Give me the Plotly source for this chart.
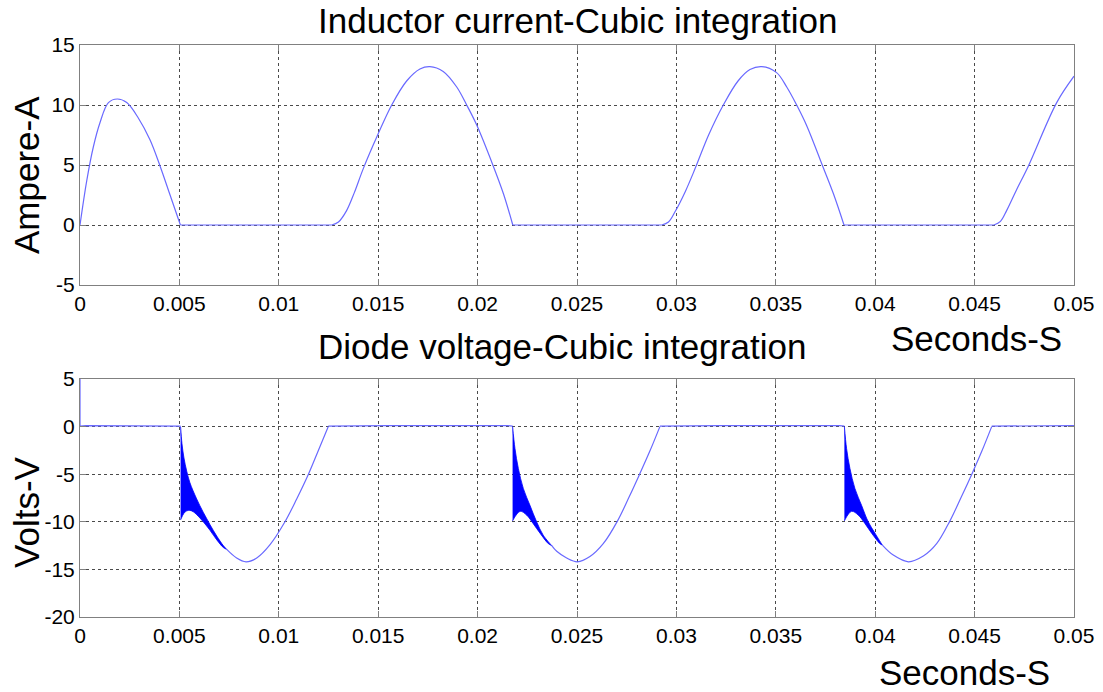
import plotly.graph_objects as go

# ---------------- data ----------------
# Inductor current pulses (time s, current A)
t_i1 = [0, 0.00034, 0.00067, 0.001, 0.00143, 0.00188, 0.00235, 0.00294, 0.00352, 0.00403, 0.00453, 0.00505]
i_1 = [0, 3.7, 6.5, 8.5, 10.2, 10.5, 10.2, 8.9, 7.1, 4.9, 2.5, 0]
t_i2 = [0.01266, 0.0130, 0.01341, 0.0138, 0.01425, 0.0150, 0.01568, 0.01643, 0.0171, 0.0176, 0.01827, 0.01895, 0.01945, 0.01995, 0.02079, 0.0213, 0.02177]
i_2 = [0, 0.25, 1.2, 2.7, 4.7, 7.6, 10.0, 12.0, 13.0, 13.2, 12.8, 11.5, 10.0, 8.35, 4.9, 2.6, 0]
t_i3 = [0.02926, 0.0296, 0.02993, 0.03045, 0.03094, 0.03162, 0.03236, 0.0331, 0.0337, 0.03429, 0.03504, 0.03555, 0.03605, 0.03655, 0.03736, 0.0379, 0.03843]
i_3 = [0, 0.25, 1.1, 2.8, 4.7, 7.5, 10.0, 12.0, 12.95, 13.2, 12.7, 11.5, 10.0, 8.3, 4.9, 2.6, 0]
t_i4 = [0.04597, 0.0463, 0.04661, 0.0471, 0.0477, 0.04913, 0.05]
i_4 = [0, 0.3, 1.2, 2.9, 4.9, 10.2, 12.4]

# Diode voltage while conducting (None separates intervals)
t_von = [0, 0, 0.0003, 0.0042, 0.00506, None, 0.01249, 0.0155, 0.0215, 0.02176, None,
         0.02917, 0.0322, 0.0382, 0.03845, None, 0.04586, 0.0489, 0.05]
v_on = [5, 0.05, 0.1, 0.1, 0.05, None, 0.05, 0.1, 0.1, 0.05, None,
        0.05, 0.1, 0.1, 0.05, None, 0.05, 0.1, 0.1]

# Ringing band envelopes after turn-off (upper / lower edges)
t_up1 = [0.00506, 0.00513, 0.00523, 0.00537, 0.00553, 0.00587, 0.0062, 0.00654, 0.00688, 0.00721, 0.00738]
v_up1 = [0, -1.8, -3.3, -4.7, -5.9, -7.6, -9.0, -10.3, -11.5, -12.5, -12.9]
t_lo1 = [0.00506, 0.00523, 0.00537, 0.00553, 0.0057, 0.00587, 0.0062, 0.00654, 0.00688, 0.00721, 0.00738]
v_lo1 = [-9.8, -9.1, -8.85, -8.8, -8.95, -9.25, -10.0, -10.9, -11.9, -12.7, -12.9]

t_up2 = [0.02176, 0.02188, 0.02205, 0.0223, 0.02264, 0.02297, 0.0233, 0.02373]
v_up2 = [0, -2.3, -4.4, -6.5, -8.3, -10.0, -11.4, -12.5]
t_lo2 = [0.02176, 0.02214, 0.02247, 0.0228, 0.02314, 0.02356, 0.02373]
v_lo2 = [-9.9, -8.9, -9.3, -10.2, -11.2, -12.3, -12.5]

t_up3 = [0.03845, 0.03856, 0.03873, 0.03898, 0.03932, 0.03965, 0.03999, 0.04036]
v_up3 = [0, -2.3, -4.4, -6.5, -8.3, -10.0, -11.2, -12.45]
t_lo3 = [0.03845, 0.03881, 0.03915, 0.03949, 0.03982, 0.04024, 0.04036]
v_lo3 = [-9.9, -8.9, -9.3, -10.2, -11.2, -12.3, -12.45]

# Reverse-voltage curve after ringing
t_d1 = [0.00738, 0.00788, 0.00835, 0.00889, 0.00956, 0.01031, 0.0109, 0.01149, 0.01199, 0.01249]
v_d1 = [-12.9, -13.8, -14.2, -13.8, -12.4, -10.0, -7.6, -5.0, -2.5, 0]
t_d2 = [0.02373, 0.02398, 0.02448, 0.02502, 0.02565, 0.02632, 0.02704, 0.02762, 0.02815, 0.02866, 0.02917]
v_d2 = [-12.5, -13.1, -13.8, -14.2, -13.65, -12.3, -9.9, -7.4, -5.0, -2.6, 0]
t_d3 = [0.04036, 0.04091, 0.04167, 0.04242, 0.04309, 0.04376, 0.04433, 0.04486, 0.04536, 0.04586]
v_d3 = [-12.45, -13.5, -14.2, -13.6, -12.3, -9.9, -7.4, -5.0, -2.6, 0]

x_ticks = [0, 0.005, 0.01, 0.015, 0.02, 0.025, 0.03, 0.035, 0.04, 0.045, 0.05]
x_labels = ["0", "0.005", "0.01", "0.015", "0.02", "0.025", "0.03", "0.035", "0.04", "0.045", "0.05"]
y1_ticks = [-5, 0, 5, 10, 15]
y1_labels = ["-5", "0", "5", "10", "15"]
y2_ticks = [-20, -15, -10, -5, 0, 5]
y2_labels = ["-20", "-15", "-10", "-5", "0", "5"]

# ---------------- figure ----------------
W, H = 1103, 692
LINE = "rgb(105,105,255)"
FONT = "Liberation Sans, Arial, sans-serif"

fig = go.Figure()

def line(x, y, xa, ya, shape="spline", color=LINE, width=1.2):
    fig.add_trace(go.Scatter(x=x, y=y, mode="lines", xaxis=xa, yaxis=ya,
                             line=dict(color=color, width=width, shape=shape),
                             hoverinfo="skip", showlegend=False))

# current
pulses = [(t_i1, i_1), (t_i2, i_2), (t_i3, i_3), (t_i4, i_4)]
for k in range(len(pulses) - 1):
    line([pulses[k][0][-1], pulses[k + 1][0][0]], [0, 0], "x", "y", shape="linear")
for t, i in pulses:
    line(t, i, "x", "y")

# voltage
line(t_von, v_on, "x2", "y2", shape="linear")
for tu, vu, tl, vl in [(t_up1, v_up1, t_lo1, v_lo1), (t_up2, v_up2, t_lo2, v_lo2), (t_up3, v_up3, t_lo3, v_lo3)]:
    fig.add_trace(go.Scatter(x=tu + tl[::-1], y=vu + vl[::-1], mode="lines", fill="toself",
                             fillcolor="#0000ff", line=dict(color="#0000ff", width=0.8, shape="spline"),
                             xaxis="x2", yaxis="y2", hoverinfo="skip", showlegend=False))
for t, v in [(t_d1, v_d1), (t_d2, v_d2), (t_d3, v_d3)]:
    line(t, v, "x2", "y2")


def axis(domain, **kw):
    d = dict(domain=domain, showline=True, mirror="ticks", linecolor="#808080", linewidth=1,
             ticks="inside", ticklen=6, tickcolor="#808080", showgrid=True, gridcolor="#4a4a4a",
             griddash="dot", gridwidth=1, zeroline=False, automargin=False,
             tickfont=dict(size=21, color="black", family=FONT))
    d.update(kw)
    return d

L, R = 80 / W, 1074 / W
fig.update_layout(
    width=W, height=H, margin=dict(l=0, r=0, t=0, b=0),
    paper_bgcolor="white", plot_bgcolor="white", showlegend=False,
    xaxis=axis([L, R], range=[0, 0.05], tickvals=x_ticks, ticktext=x_labels, anchor="y"),
    yaxis=axis([1 - 285 / H, 1 - 45 / H], range=[-5, 15], tickvals=y1_ticks, ticktext=y1_labels, anchor="x"),
    xaxis2=axis([L, R], range=[0, 0.05], tickvals=x_ticks, ticktext=x_labels, anchor="y2"),
    yaxis2=axis([1 - 617 / H, 1 - 379 / H], range=[-20, 5], tickvals=y2_ticks, ticktext=y2_labels, anchor="x2"),
)

def text(s, px, py, angle=0):
    fig.add_annotation(text=s, x=px / W, y=1 - py / H, xref="paper", yref="paper",
                       showarrow=False, textangle=angle, xanchor="center", yanchor="middle",
                       font=dict(size=35, color="black", family=FONT))

text("Inductor current-Cubic integration", 577, 20)
text("Diode voltage-Cubic integration", 562, 347)
text("Seconds-S", 976, 338)
text("Seconds-S", 964, 672)
text("Ampere-A", 26, 175, -90)
text("Volts-V", 26, 512, -90)

fig.write_html("out.html")
